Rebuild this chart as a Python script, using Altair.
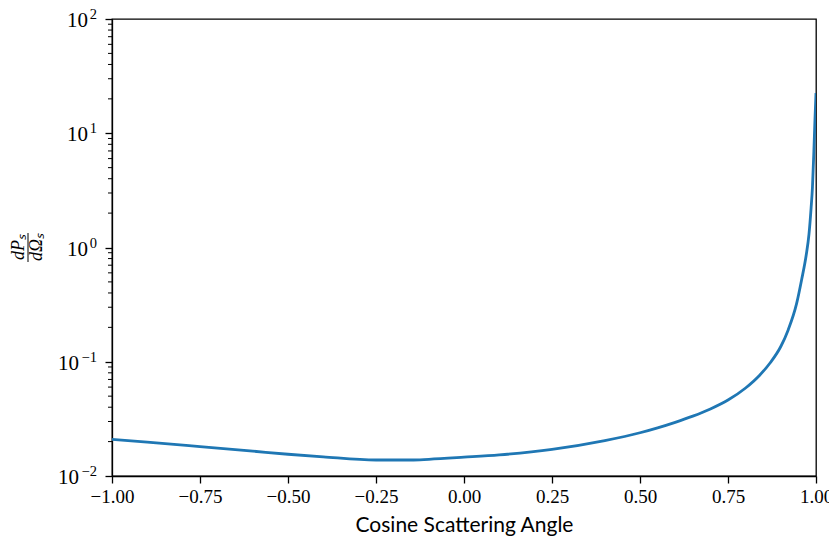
import altair as alt
import pandas as pd

# Curve values
x_vals = [-1.0, -0.9, -0.75, -0.6, -0.5, -0.4, -0.25, -0.15, -0.1, 0.0, 0.1, 0.25,
          0.4, 0.5, 0.55, 0.6, 0.65, 0.7, 0.75, 0.8, 0.84, 0.87, 0.9, 0.921, 0.945,
          0.959, 0.972, 0.98, 0.986, 0.99, 0.994, 0.997, 1.0]
y_vals = [0.0209, 0.0198, 0.0181, 0.0165, 0.0155, 0.0147, 0.0138, 0.0138, 0.0140, 0.0146,
          0.0153, 0.0171, 0.0204, 0.0239, 0.0264, 0.0295, 0.0334, 0.0386, 0.0462, 0.0589,
          0.0762, 0.098, 0.136, 0.19, 0.324, 0.52, 0.85, 1.3, 2.2, 3.4, 7.0, 13.0, 22.5]

x_ticks = [-1.0, -0.75, -0.5, -0.25, 0.0, 0.25, 0.5, 0.75, 1.0]
y_ticks = [0.01, 0.1, 1, 10, 100]
y_exponents = ["\u22122", "\u22121", "0", "1", "2"]
y_minor = [m * 10.0 ** k for k in range(-2, 2) for m in range(2, 10)]

df = pd.DataFrame({"x": x_vals, "y": y_vals})
minor_df = pd.DataFrame({"y": y_minor})
lab_df = pd.DataFrame({"y": y_ticks, "exp": y_exponents})
frac_df = pd.DataFrame({"t": [0]})

SERIF = "Liberation Serif"

xscale = alt.Scale(domain=[-1, 1], nice=False, zero=False)
yscale = alt.Scale(type="log", domain=[0.01, 100], nice=False)

line = alt.Chart(df).mark_line(color="#1f77b4", strokeWidth=2.8, clip=True,
                               interpolate="monotone").encode(
    x=alt.X("x:Q", scale=xscale,
            axis=alt.Axis(values=x_ticks, format=".2f",
                          labelExpr="replace(datum.label, '-', '\u2212')",
                          title="Cosine Scattering Angle", grid=False, tickSize=7,
                          labelFont=SERIF, labelFontSize=19, labelPadding=4,
                          titleFont="Lato", titleFontSize=21, titleFontWeight="normal",
                          titlePadding=8, domainColor="black", tickColor="black",
                          labelColor="black", titleColor="black", domainWidth=1.3,
                          tickWidth=1.3, labelFlush=False)),
    y=alt.Y("y:Q", scale=yscale,
            axis=alt.Axis(values=y_ticks, title=None, grid=False, tickSize=7,
                          labels=False, domainColor="black", tickColor="black",
                          domainWidth=1.3, tickWidth=1.3)),
)

minor = alt.Chart(minor_df).mark_rule(color="black", strokeWidth=1.0).encode(
    y=alt.Y("y:Q", scale=yscale),
    x=alt.value(-4),
    x2=alt.value(0),
)

base_pos = alt.Chart(lab_df).transform_filter("datum.y >= 1").mark_text(
    text="10", font=SERIF, fontSize=21, align="right", baseline="alphabetic",
    dy=8, color="black"
).encode(y=alt.Y("y:Q", scale=yscale), x=alt.value(-24))

base_neg = alt.Chart(lab_df).transform_filter("datum.y < 1").mark_text(
    text="10", font=SERIF, fontSize=21, align="right", baseline="alphabetic",
    dy=8, color="black"
).encode(y=alt.Y("y:Q", scale=yscale), x=alt.value(-33))

exps = alt.Chart(lab_df).mark_text(
    font=SERIF, fontSize=14.5, align="right", baseline="alphabetic",
    dy=0, color="black"
).encode(y=alt.Y("y:Q", scale=yscale), x=alt.value(-15), text="exp:N")

num = alt.Chart(frac_df).mark_text(
    text="dP\u209b", angle=270, font=SERIF, fontStyle="italic", fontSize=18,
    align="center", baseline="middle", color="black"
).encode(x=alt.value(-93), y=alt.value(228))

bar = alt.Chart(frac_df).mark_rule(color="black", strokeWidth=1.0).encode(
    x=alt.value(-84), y=alt.value(214), y2=alt.value(243)
)

den = alt.Chart(frac_df).mark_text(
    text="d\u03a9\u209b", angle=270, font=SERIF, fontStyle="italic", fontSize=18,
    align="center", baseline="middle", color="black"
).encode(x=alt.value(-75), y=alt.value(228))

chart = alt.layer(line, minor, base_pos, base_neg, exps, num, bar, den).properties(
    width=704, height=457,
    background="white",
    autosize=alt.AutoSizeParams(type="none"),
    padding={"left": 104, "top": 11, "right": 13, "bottom": 60},
).configure_view(stroke="black", strokeWidth=1.3)

chart.save("out.html", embed_options={"renderer": "svg", "actions": False})
